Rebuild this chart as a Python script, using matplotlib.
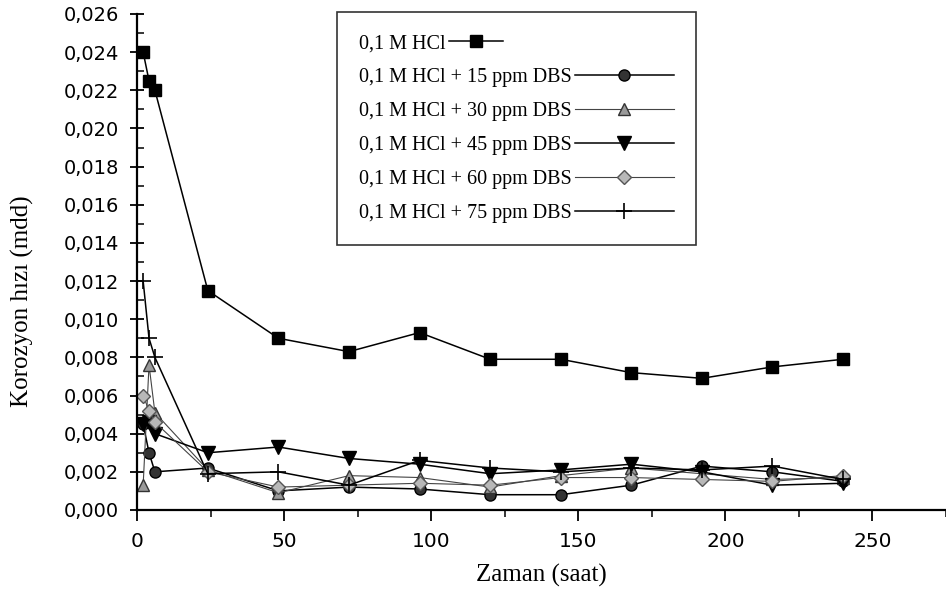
import matplotlib
matplotlib.use("Agg")
import matplotlib.pyplot as plt
from matplotlib.ticker import MultipleLocator, FuncFormatter
from matplotlib.legend_handler import HandlerLine2D

# zaman (saat)
saat = [2, 4, 6, 24, 48, 72, 96, 120, 144, 168, 192, 216, 240]

hcl    = [0.0240, 0.0225, 0.0220, 0.0115, 0.0090, 0.0083, 0.0093, 0.0079, 0.0079, 0.0072, 0.0069, 0.0075, 0.0079]
dbs15  = [0.0045, 0.0030, 0.0020, 0.0022, 0.0010, 0.0012, 0.0011, 0.0008, 0.0008, 0.0013, 0.0023, 0.0020, 0.0015]
dbs30  = [0.0013, 0.0076, 0.0051, 0.0021, 0.0009, 0.0018, 0.0017, 0.0012, 0.0018, 0.0022, 0.0019, 0.0016, 0.0017]
dbs45  = [0.0045, 0.0046, 0.0040, 0.0030, 0.0033, 0.0027, 0.0024, 0.0019, 0.0021, 0.0024, 0.0020, 0.0013, 0.0014]
dbs60  = [0.0060, 0.0052, 0.0046, 0.0020, 0.0012, 0.0013, 0.0014, 0.0013, 0.0017, 0.0017, 0.0016, 0.0015, 0.0018]
dbs75  = [0.0120, 0.0090, 0.0080, 0.0019, 0.0020, 0.0013, 0.0026, 0.0022, 0.0020, 0.0022, 0.0021, 0.0023, 0.0016]

etiketler = ["0,1 M HCl",
             "0,1 M HCl + 15 ppm DBS",
             "0,1 M HCl + 30 ppm DBS",
             "0,1 M HCl + 45 ppm DBS",
             "0,1 M HCl + 60 ppm DBS",
             "0,1 M HCl + 75 ppm DBS"]

serif = "Liberation Serif"


class KisaCizgi(HandlerLine2D):
    # first legend entry has a shorter sample line
    def create_artists(self, legend, orig_handle, xdescent, ydescent, width, height, fontsize, trans):
        return super().create_artists(legend, orig_handle, xdescent, ydescent,
                                      width * 0.55, height, fontsize, trans)


fig = plt.figure(figsize=(9.46, 5.95), dpi=100)
ax = fig.add_axes([0.1451, 0.1429, 0.8549, 0.8336])

l0, = ax.plot(saat, hcl, '-', color='black', lw=1.1, marker='s', ms=9, mfc='black', mec='black', label=etiketler[0])
ax.plot(saat, dbs15, '-', color='black', lw=1.1, marker='o', ms=8, mfc='#333333', mec='black', label=etiketler[1])
ax.plot(saat, dbs30, '-', color='#444444', lw=0.8, marker='^', ms=9, mfc='#9a9a9a', mec='#333333', label=etiketler[2])
ax.plot(saat, dbs45, '-', color='black', lw=1.1, marker='v', ms=10, mfc='black', mec='black', label=etiketler[3])
ax.plot(saat, dbs60, '-', color='#444444', lw=0.8, marker='D', ms=7, mfc='#b8b8b8', mec='#555555', label=etiketler[4])
ax.plot(saat, dbs75, '-', color='black', lw=1.1, marker='+', ms=11, mew=1.2, mec='black', label=etiketler[5])

ax.set_xlim(0, 275)
ax.set_ylim(0, 0.026)
ax.xaxis.set_major_locator(MultipleLocator(50))
ax.xaxis.set_minor_locator(MultipleLocator(25))
ax.yaxis.set_major_locator(MultipleLocator(0.002))
ax.yaxis.set_minor_locator(MultipleLocator(0.001))
ax.yaxis.set_major_formatter(FuncFormatter(lambda v, p: ("%.3f" % v).replace(".", ",")))

for s in ['top', 'right']:
    ax.spines[s].set_visible(False)
for s in ['left', 'bottom']:
    ax.spines[s].set_linewidth(1.6)

ax.tick_params(axis='y', which='major', direction='inout', length=10, width=1.3, labelsize=14, pad=8)
ax.tick_params(axis='y', which='minor', direction='in', length=5, width=1.1)
ax.tick_params(axis='x', which='major', direction='out', length=8, width=1.3, labelsize=14.5, pad=8)
ax.tick_params(axis='x', which='minor', direction='out', length=5, width=1.1)

ax.set_xlabel("Zaman (saat)", family=serif, fontsize=18)
ax.set_ylabel("Korozyon hızı (mdd)", family=serif, fontsize=18)
ax.xaxis.set_label_coords(0.5, -0.108)
ax.yaxis.set_label_coords(-0.142, 0.42)
ax.yaxis.label.set_va('center')

leg = ax.legend(loc='upper left', bbox_to_anchor=(0.247, 1.004), markerfirst=False,
                prop={'family': serif, 'size': 14.5}, frameon=True, fancybox=False,
                edgecolor='black', handlelength=4.9, handletextpad=0.15,
                labelspacing=0.74, borderpad=1.1, borderaxespad=0.0,
                handler_map={l0: KisaCizgi()})
leg.get_frame().set_linewidth(1.2)
for col in leg._legend_handle_box.get_children():
    col.align = 'left'

fig.savefig("out.png", dpi=100)
